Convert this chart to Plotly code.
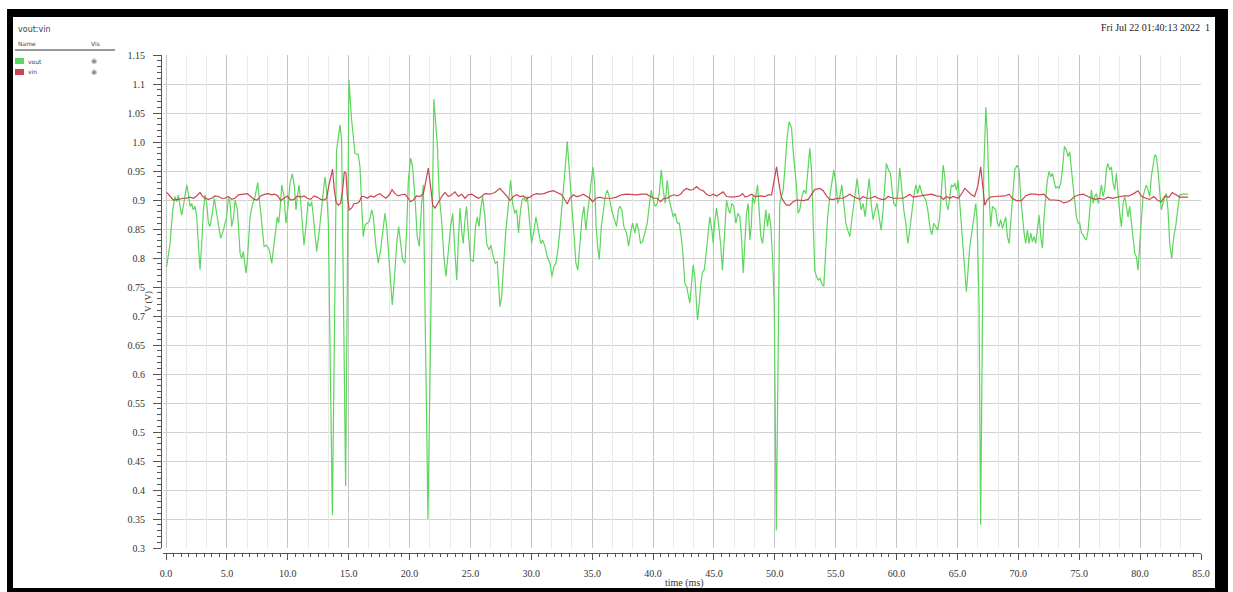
import plotly.graph_objects as go

# ---------------- data (time in ms, voltage in V) ----------------
vout_t = [0.05, 0.33, 0.55, 0.74, 0.88, 1.01, 1.15, 1.29, 1.48, 1.70, 1.83, 1.97, 2.11, 2.24, 2.38, 2.52, 2.65, 2.79, 2.93, 3.07,
          3.20, 3.34, 3.48, 3.61, 3.75, 3.89, 3.97, 4.11, 4.30, 4.49, 4.71, 4.84, 4.98, 5.12, 5.25, 5.39, 5.53, 5.67, 5.86, 6.08,
          6.21, 6.35, 6.57, 6.68, 6.90, 7.12, 7.31, 7.53, 7.72, 7.85, 8.05, 8.26, 8.48, 8.68, 8.87, 9.00, 9.14, 9.25, 9.36, 9.50,
          9.69, 9.85, 9.99, 10.18, 10.37, 10.54, 10.67, 10.78, 10.92, 11.06, 11.22, 11.33, 11.49, 11.66, 11.82, 11.96, 12.10, 12.23, 12.37, 12.59,
          12.78, 12.92, 13.05, 13.19, 13.33, 13.66, 14.00, 14.29, 14.42, 14.75, 15.02, 15.24, 15.52, 15.79, 15.93, 16.06, 16.20, 16.34, 16.48, 16.69,
          16.89, 17.02, 17.24, 17.43, 17.62, 17.79, 17.98, 18.12, 18.28, 18.45, 18.58, 18.75, 18.94, 19.10, 19.27, 19.43, 19.62, 19.76, 19.90, 20.09,
          20.25, 20.44, 20.63, 20.80, 20.99, 21.13, 21.51, 22.00, 22.29, 22.44, 22.63, 22.82, 22.99, 23.18, 23.37, 23.54, 23.67, 23.87, 24.00, 24.14,
          24.30, 24.41, 24.55, 24.68, 24.85, 25.01, 25.23, 25.42, 25.56, 25.70, 25.83, 26.00, 26.19, 26.33, 26.52, 26.68, 26.87, 27.04, 27.20, 27.31,
          27.42, 27.56, 27.75, 27.91, 28.11, 28.30, 28.46, 28.65, 28.79, 28.95, 29.06, 29.23, 29.39, 29.56, 29.67, 29.83, 30.02, 30.22, 30.38, 30.57,
          30.78, 30.93, 31.12, 31.31, 31.53, 31.69, 31.85, 32.02, 32.18, 32.35, 32.51, 32.67, 32.81, 32.95, 33.09, 33.22, 33.39, 33.52, 33.66, 33.82,
          33.99, 34.15, 34.32, 34.48, 34.62, 34.76, 34.92, 35.06, 35.20, 35.31, 35.44, 35.58, 35.75, 35.91, 36.07, 36.24, 36.40, 36.59, 36.78, 37.00,
          37.16, 37.27, 37.44, 37.60, 37.82, 37.99, 38.15, 38.32, 38.51, 38.65, 38.81, 38.97, 39.14, 39.33, 39.52, 39.68, 39.85, 40.01, 40.18, 40.34,
          40.51, 40.67, 40.83, 41.00, 41.16, 41.33, 41.49, 41.65, 41.82, 41.98, 42.15, 42.31, 42.45, 42.61, 42.75, 42.88, 43.02, 43.16, 43.29, 43.43,
          43.57, 43.65, 43.79, 43.92, 44.06, 44.20, 44.33, 44.50, 44.66, 44.83, 44.94, 45.05, 45.21, 45.37, 45.54, 45.70, 45.87, 46.03, 46.20, 46.31,
          46.47, 46.64, 46.80, 46.96, 47.13, 47.27, 47.40, 47.54, 47.67, 47.81, 47.95, 48.06, 48.17, 48.33, 48.47, 48.58, 48.71, 48.85, 48.99, 49.15,
          49.26, 49.40, 49.53, 49.67, 49.81, 49.95, 50.12, 50.40, 50.68, 50.82, 51.01, 51.18, 51.37, 51.50, 51.64, 51.78, 51.91, 52.05, 52.22, 52.38,
          52.55, 52.71, 52.87, 53.01, 53.15, 53.28, 53.42, 53.56, 53.70, 53.86, 54.02, 54.16, 54.32, 54.51, 54.68, 54.84, 55.01, 55.17, 55.34, 55.50,
          55.66, 55.83, 55.99, 56.16, 56.32, 56.49, 56.65, 56.76, 56.93, 57.09, 57.25, 57.42, 57.58, 57.75, 57.91, 58.07, 58.24, 58.40, 58.56, 58.73,
          58.89, 59.03, 59.16, 59.33, 59.50, 59.63, 59.77, 59.93, 60.10, 60.26, 60.42, 60.59, 60.76, 60.92, 61.08, 61.25, 61.41, 61.58, 61.74, 61.90,
          62.07, 62.23, 62.40, 62.56, 62.73, 62.89, 63.05, 63.22, 63.38, 63.54, 63.71, 63.82, 63.96, 64.09, 64.23, 64.37, 64.50, 64.64, 64.78, 64.91,
          65.05, 65.19, 65.32, 65.46, 65.60, 65.73, 65.87, 66.01, 66.17, 66.34, 66.50, 66.61, 66.77, 66.90, 67.16, 67.33, 67.46, 67.60, 67.73, 67.87,
          68.01, 68.14, 68.28, 68.41, 68.55, 68.69, 68.82, 68.96, 69.10, 69.24, 69.37, 69.51, 69.70, 69.89, 70.06, 70.19, 70.33, 70.47, 70.60, 70.74,
          70.88, 71.02, 71.15, 71.29, 71.43, 71.56, 71.70, 71.84, 71.98, 72.11, 72.25, 72.38, 72.52, 72.66, 72.80, 72.93, 73.07, 73.21, 73.34, 73.48,
          73.62, 73.78, 73.95, 74.08, 74.22, 74.36, 74.49, 74.63, 74.77, 74.90, 75.04, 75.18, 75.32, 75.45, 75.59, 75.73, 75.86, 76.00, 76.14, 76.27,
          76.41, 76.57, 76.68, 76.82, 76.95, 77.09, 77.23, 77.34, 77.50, 77.64, 77.78, 77.91, 78.05, 78.19, 78.33, 78.46, 78.60, 78.74, 78.87, 79.01,
          79.14, 79.28, 79.42, 79.56, 79.69, 79.83, 79.97, 80.10, 80.24, 80.38, 80.51, 80.65, 80.79, 80.92, 81.06, 81.20, 81.33, 81.47, 81.60, 81.74,
          81.88, 82.02, 82.15, 82.29, 82.43, 82.59, 82.76, 82.92, 83.09, 83.25, 83.52, 83.93]
vout_v = [0.785, 0.825, 0.883, 0.906, 0.897, 0.909, 0.889, 0.874, 0.897, 0.926, 0.911, 0.889, 0.894, 0.883, 0.889, 0.871, 0.825, 0.780, 0.825, 0.883,
          0.909, 0.894, 0.860, 0.854, 0.871, 0.894, 0.903, 0.883, 0.854, 0.834, 0.848, 0.857, 0.871, 0.903, 0.897, 0.854, 0.868, 0.900, 0.883, 0.808,
          0.799, 0.811, 0.774, 0.797, 0.871, 0.894, 0.906, 0.930, 0.894, 0.860, 0.820, 0.822, 0.814, 0.791, 0.825, 0.854, 0.871, 0.860, 0.883, 0.926,
          0.906, 0.860, 0.883, 0.929, 0.945, 0.923, 0.883, 0.906, 0.926, 0.897, 0.854, 0.822, 0.854, 0.897, 0.889, 0.897, 0.871, 0.837, 0.811, 0.848,
          0.883, 0.906, 0.940, 0.917, 0.860, 0.357, 0.985, 1.029, 1.003, 0.407, 1.107, 1.038, 0.980, 0.978, 0.957, 0.894, 0.837, 0.857, 0.860, 0.863,
          0.883, 0.871, 0.820, 0.791, 0.814, 0.848, 0.877, 0.854, 0.802, 0.751, 0.719, 0.762, 0.825, 0.854, 0.825, 0.797, 0.791, 0.848, 0.934, 0.972,
          0.957, 0.906, 0.837, 0.820, 0.894, 0.926, 0.350, 1.074, 0.992, 0.906, 0.866, 0.802, 0.768, 0.814, 0.854, 0.877, 0.825, 0.762, 0.825, 0.886,
          0.843, 0.825, 0.866, 0.889, 0.837, 0.797, 0.794, 0.854, 0.871, 0.854, 0.883, 0.906, 0.871, 0.825, 0.814, 0.822, 0.802, 0.791, 0.794, 0.756,
          0.716, 0.733, 0.791, 0.848, 0.889, 0.934, 0.894, 0.877, 0.883, 0.843, 0.871, 0.900, 0.903, 0.897, 0.906, 0.866, 0.825, 0.848, 0.871, 0.848,
          0.825, 0.831, 0.820, 0.802, 0.791, 0.768, 0.785, 0.791, 0.814, 0.848, 0.894, 0.934, 0.963, 1.001, 0.957, 0.906, 0.871, 0.837, 0.791, 0.779,
          0.825, 0.866, 0.889, 0.848, 0.877, 0.906, 0.929, 0.957, 0.929, 0.860, 0.820, 0.797, 0.854, 0.883, 0.906, 0.917, 0.906, 0.883, 0.871, 0.854,
          0.883, 0.889, 0.883, 0.854, 0.843, 0.820, 0.843, 0.860, 0.843, 0.860, 0.848, 0.825, 0.828, 0.843, 0.860, 0.889, 0.917, 0.900, 0.889, 0.894,
          0.911, 0.952, 0.917, 0.894, 0.934, 0.900, 0.883, 0.871, 0.877, 0.860, 0.860, 0.837, 0.808, 0.756, 0.751, 0.739, 0.722, 0.756, 0.788, 0.768,
          0.722, 0.693, 0.722, 0.756, 0.776, 0.779, 0.802, 0.843, 0.871, 0.848, 0.825, 0.860, 0.886, 0.860, 0.825, 0.779, 0.837, 0.900, 0.883, 0.877,
          0.894, 0.889, 0.860, 0.877, 0.871, 0.831, 0.774, 0.820, 0.877, 0.894, 0.831, 0.854, 0.906, 0.894, 0.911, 0.926, 0.883, 0.837, 0.825, 0.860,
          0.883, 0.854, 0.877, 0.854, 0.802, 0.722, 0.330, 0.894, 0.917, 0.952, 1.009, 1.035, 1.024, 0.986, 0.957, 0.923, 0.877, 0.883, 0.906, 0.917,
          0.911, 0.952, 0.989, 0.952, 0.848, 0.779, 0.768, 0.762, 0.765, 0.756, 0.751, 0.802, 0.866, 0.906, 0.929, 0.952, 0.929, 0.894, 0.906, 0.926,
          0.894, 0.860, 0.848, 0.837, 0.866, 0.894, 0.923, 0.937, 0.906, 0.883, 0.894, 0.871, 0.906, 0.937, 0.894, 0.866, 0.883, 0.894, 0.871, 0.848,
          0.883, 0.934, 0.963, 0.952, 0.946, 0.917, 0.894, 0.889, 0.911, 0.955, 0.917, 0.883, 0.860, 0.825, 0.848, 0.883, 0.906, 0.926, 0.911, 0.926,
          0.911, 0.906, 0.900, 0.883, 0.854, 0.840, 0.860, 0.854, 0.848, 0.870, 0.934, 0.960, 0.940, 0.894, 0.883, 0.906, 0.926, 0.923, 0.929, 0.917,
          0.934, 0.894, 0.860, 0.825, 0.779, 0.742, 0.779, 0.820, 0.843, 0.871, 0.894, 0.866, 0.722, 0.340, 0.952, 1.060, 1.009, 0.906, 0.854, 0.889,
          0.886, 0.883, 0.860, 0.854, 0.866, 0.851, 0.860, 0.871, 0.837, 0.825, 0.860, 0.906, 0.952, 0.960, 0.952, 0.906, 0.871, 0.843, 0.825, 0.848,
          0.825, 0.843, 0.828, 0.837, 0.825, 0.854, 0.874, 0.837, 0.817, 0.871, 0.906, 0.934, 0.949, 0.940, 0.946, 0.934, 0.920, 0.923, 0.920, 0.929,
          0.952, 0.992, 0.986, 0.975, 0.983, 0.952, 0.929, 0.906, 0.871, 0.860, 0.860, 0.843, 0.840, 0.834, 0.831, 0.848, 0.883, 0.917, 0.894, 0.906,
          0.911, 0.894, 0.906, 0.926, 0.906, 0.917, 0.952, 0.963, 0.952, 0.957, 0.929, 0.917, 0.946, 0.906, 0.877, 0.854, 0.894, 0.906, 0.889, 0.871,
          0.889, 0.860, 0.837, 0.808, 0.802, 0.779, 0.825, 0.871, 0.906, 0.917, 0.926, 0.917, 0.906, 0.940, 0.957, 0.978, 0.975, 0.952, 0.917, 0.883,
          0.894, 0.906, 0.911, 0.883, 0.825, 0.799, 0.837, 0.854, 0.883, 0.909, 0.910, 0.910]

vin_t = [0.05, 0.33, 0.60, 1.01, 1.42, 1.70, 1.97, 2.24, 2.52, 2.79, 3.01, 3.20, 3.48, 3.75, 4.02, 4.30, 4.57, 4.84, 5.12, 5.39,
         5.67, 5.94, 6.35, 6.68, 6.95, 7.23, 7.50, 7.77, 8.13, 8.40, 8.68, 8.95, 9.22, 9.41, 9.69, 9.96, 10.24, 10.51, 10.78, 11.06,
         11.33, 11.60, 11.88, 12.15, 12.42, 12.70, 12.97, 13.19, 13.38, 13.55, 13.68, 13.82, 13.96, 14.15, 14.34, 14.50, 14.64, 14.78, 14.89, 15.05,
         15.24, 15.44, 15.65, 15.87, 16.06, 16.26, 16.53, 16.80, 17.08, 17.35, 17.57, 17.79, 18.06, 18.34, 18.56, 18.80, 19.07, 19.35, 19.62, 19.90,
         20.09, 20.31, 20.58, 20.85, 21.13, 21.35, 21.54, 21.73, 21.90, 22.09, 22.37, 22.64, 22.91, 23.18, 23.46, 23.73, 24.00, 24.27, 24.55, 24.82,
         25.10, 25.37, 25.64, 25.92, 26.19, 26.60, 27.01, 27.42, 27.70, 27.97, 28.25, 28.52, 28.79, 29.06, 29.34, 29.61, 29.89, 30.16, 30.43, 30.71,
         31.04, 31.39, 31.80, 32.13, 32.49, 32.76, 32.95, 33.17, 33.44, 33.71, 33.99, 34.26, 34.54, 34.81, 35.03, 35.31, 35.64, 35.91, 36.18, 36.59,
         37.00, 37.41, 37.82, 38.23, 38.65, 39.05, 39.46, 39.79, 40.06, 40.34, 40.61, 40.89, 41.16, 41.44, 41.71, 41.98, 42.26, 42.53, 42.75, 43.02,
         43.29, 43.57, 43.84, 44.12, 44.39, 44.66, 44.94, 45.21, 45.48, 45.76, 46.03, 46.31, 46.58, 46.86, 47.13, 47.35, 47.57, 47.81, 48.09, 48.36,
         48.64, 48.91, 49.18, 49.46, 49.73, 49.92, 50.14, 50.33, 50.52, 50.74, 50.96, 51.23, 51.50, 51.78, 52.05, 52.38, 52.74, 53.01, 53.28, 53.70,
         53.97, 54.24, 54.51, 54.84, 55.20, 55.61, 55.88, 56.16, 56.43, 56.70, 56.98, 57.25, 57.52, 57.85, 58.21, 58.48, 58.76, 59.03, 59.30, 59.72,
         60.13, 60.54, 60.87, 61.08, 61.36, 61.69, 62.05, 62.45, 62.86, 63.27, 63.60, 63.85, 64.09, 64.37, 64.64, 65.05, 65.32, 65.60, 65.87, 66.14,
         66.41, 66.69, 66.91, 67.10, 67.24, 67.43, 67.70, 68.06, 68.47, 68.88, 69.24, 69.51, 69.84, 70.25, 70.60, 70.93, 71.34, 71.76, 72.09, 72.30,
         72.58, 72.99, 73.40, 73.73, 74.08, 74.36, 74.63, 74.99, 75.32, 75.64, 76.00, 76.35, 76.68, 77.01, 77.36, 77.72, 78.05, 78.38, 78.74, 79.09,
         79.47, 79.83, 80.10, 80.46, 80.79, 81.12, 81.47, 81.74, 82.02, 82.37, 82.65, 82.92, 83.25, 83.93]
vin_v = [0.913, 0.907, 0.900, 0.901, 0.903, 0.903, 0.905, 0.903, 0.907, 0.913, 0.906, 0.903, 0.901, 0.903, 0.907, 0.906, 0.903, 0.903, 0.906, 0.901,
         0.903, 0.909, 0.910, 0.911, 0.906, 0.901, 0.900, 0.907, 0.910, 0.911, 0.909, 0.910, 0.906, 0.899, 0.903, 0.907, 0.900, 0.901, 0.907, 0.905,
         0.907, 0.903, 0.901, 0.907, 0.905, 0.901, 0.900, 0.903, 0.926, 0.940, 0.953, 0.917, 0.897, 0.891, 0.894, 0.917, 0.949, 0.946, 0.906, 0.883,
         0.886, 0.894, 0.894, 0.897, 0.906, 0.906, 0.903, 0.907, 0.905, 0.909, 0.911, 0.907, 0.903, 0.909, 0.918, 0.911, 0.907, 0.909, 0.910, 0.903,
         0.897, 0.900, 0.907, 0.906, 0.911, 0.934, 0.955, 0.923, 0.891, 0.886, 0.897, 0.906, 0.913, 0.906, 0.909, 0.914, 0.906, 0.910, 0.903, 0.909,
         0.910, 0.906, 0.903, 0.906, 0.911, 0.910, 0.913, 0.920, 0.914, 0.907, 0.899, 0.906, 0.909, 0.906, 0.907, 0.903, 0.905, 0.909, 0.911, 0.910,
         0.911, 0.914, 0.916, 0.913, 0.909, 0.900, 0.893, 0.903, 0.909, 0.906, 0.907, 0.910, 0.906, 0.903, 0.897, 0.903, 0.905, 0.903, 0.903, 0.903,
         0.905, 0.909, 0.910, 0.909, 0.909, 0.910, 0.910, 0.906, 0.903, 0.903, 0.897, 0.903, 0.903, 0.907, 0.909, 0.907, 0.910, 0.917, 0.920, 0.917,
         0.918, 0.923, 0.918, 0.916, 0.910, 0.907, 0.910, 0.907, 0.911, 0.914, 0.906, 0.905, 0.905, 0.906, 0.907, 0.911, 0.905, 0.907, 0.910, 0.906,
         0.907, 0.907, 0.906, 0.909, 0.909, 0.929, 0.957, 0.929, 0.906, 0.897, 0.891, 0.891, 0.897, 0.900, 0.900, 0.899, 0.901, 0.909, 0.918, 0.920,
         0.916, 0.907, 0.901, 0.901, 0.903, 0.903, 0.907, 0.910, 0.906, 0.903, 0.901, 0.906, 0.903, 0.903, 0.906, 0.903, 0.901, 0.901, 0.906, 0.903,
         0.903, 0.903, 0.907, 0.910, 0.905, 0.906, 0.907, 0.909, 0.910, 0.907, 0.906, 0.901, 0.906, 0.903, 0.906, 0.903, 0.910, 0.920, 0.914, 0.909,
         0.906, 0.926, 0.957, 0.923, 0.891, 0.900, 0.905, 0.906, 0.906, 0.907, 0.910, 0.903, 0.899, 0.899, 0.907, 0.910, 0.910, 0.909, 0.910, 0.905,
         0.900, 0.900, 0.899, 0.895, 0.897, 0.901, 0.906, 0.909, 0.910, 0.907, 0.903, 0.901, 0.903, 0.901, 0.905, 0.903, 0.905, 0.906, 0.907, 0.907,
         0.911, 0.916, 0.907, 0.903, 0.901, 0.906, 0.899, 0.897, 0.906, 0.905, 0.913, 0.910, 0.905, 0.905]

series_names = ["vout", "vin"]
series_colors = ["#5cd65c", "#cc4450"]

x_tick_vals = [0, 5, 10, 15, 20, 25, 30, 35, 40, 45, 50, 55, 60, 65, 70, 75, 80, 85]
x_tick_text = ["0.0", "5.0", "10.0", "15.0", "20.0", "25.0", "30.0", "35.0", "40.0", "45.0",
               "50.0", "55.0", "60.0", "65.0", "70.0", "75.0", "80.0", "85.0"]
y_tick_vals = [0.3, 0.35, 0.4, 0.45, 0.5, 0.55, 0.6, 0.65, 0.7, 0.75, 0.8, 0.85, 0.9, 0.95, 1.0, 1.05, 1.1, 1.15]
y_tick_text = ["0.3", "0.35", "0.4", "0.45", "0.5", "0.55", "0.6", "0.65", "0.7", "0.75",
               "0.8", "0.85", "0.9", "0.95", "1.0", "1.05", "1.1", "1.15"]

x_title = "time (ms)"
y_title = "V (V)"
panel_title = "vout:vin"
stamp_text = "Fri Jul 22 01:40:13 2022  1"

# ---------------- layout geometry ----------------
W, H = 1233, 592
ML, MR, MT, MB = 161, 32, 55, 39
PW = W - ML - MR
PH = H - MT - MB


def px(x):
    return (x - ML) / PW


def py(y):
    return (H - MB - y) / PH


serif = "Liberation Serif"
sans = "DejaVu Sans"
axis_col = "#555555"
text_col = "#333333"

# minor vertical grid every 5/3 ms, skipping the major (5 ms) lines
minor_grid = [k * 5.0 / 3.0 for k in range(0, 52) if k % 3 != 0]

fig = go.Figure()
fig.add_trace(go.Scatter(x=vout_t, y=vout_v, mode="lines", name=series_names[0],
                         line=dict(color=series_colors[0], width=1.2)))
fig.add_trace(go.Scatter(x=vin_t, y=vin_v, mode="lines", name=series_names[1],
                         line=dict(color=series_colors[1], width=1.2)))
fig.add_trace(go.Scatter(x=[None], y=[None], xaxis="x2", yaxis="y", showlegend=False,
                         hoverinfo="skip", mode="lines"))

tick_font = dict(family=serif, size=10, color=text_col)

fig.update_layout(
    width=W, height=H,
    margin=dict(l=ML, r=MR, t=MT, b=MB, pad=0),
    paper_bgcolor="white", plot_bgcolor="white",
    showlegend=False,
    xaxis=dict(domain=[px(163), 1], range=[-0.25, 85], anchor="free", position=0,
               showline=True, linecolor=axis_col, linewidth=1,
               ticks="outside", ticklen=6, tickcolor=axis_col, tickwidth=1,
               tickmode="array", tickvals=x_tick_vals, ticktext=x_tick_text,
               tickfont=tick_font, ticklabelstandoff=5,
               showgrid=True, gridcolor="#c4c4c4", gridwidth=1, zeroline=False,
               minor=dict(tickmode="linear", tick0=0, dtick=0.625, ticks="outside",
                          ticklen=3, tickcolor=axis_col, showgrid=False)),
    xaxis2=dict(overlaying="x", range=[-0.25, 85], anchor="y",
                showgrid=True, gridcolor="#e9e9e9", gridwidth=1,
                tickmode="array", tickvals=minor_grid, showticklabels=False,
                ticks="", showline=False, zeroline=False),
    yaxis=dict(domain=[py(548), 1], range=[0.3, 1.15], anchor="free", position=0,
               showline=True, linecolor=axis_col, linewidth=1,
               ticks="outside", ticklen=8, tickcolor=axis_col, tickwidth=1,
               tickmode="array", tickvals=y_tick_vals, ticktext=y_tick_text,
               tickfont=tick_font, ticklabelstandoff=6,
               showgrid=True, gridcolor="#d2d2d2", gridwidth=1, zeroline=False,
               minor=dict(tickmode="linear", tick0=0.3, dtick=0.01, ticks="outside",
                          ticklen=4, tickcolor=axis_col, showgrid=False)),
)

annotations = [
    dict(text=x_title, x=px(684), y=py(583), xanchor="center", yanchor="middle",
         font=dict(family=serif, size=10, color=text_col)),
    dict(text=y_title, x=px(148), y=py(302), xanchor="center", yanchor="middle", textangle=-90,
         font=dict(family=serif, size=9, color=text_col)),
    dict(text=stamp_text, x=px(1212), y=py(28), xanchor="right", yanchor="middle",
         font=dict(family=serif, size=10, color="#222222")),
    dict(text=panel_title, x=px(16), y=py(29), xanchor="left", yanchor="middle",
         font=dict(family=sans, size=8, color="#444444")),
    dict(text="Name", x=px(16), y=py(44), xanchor="left", yanchor="middle",
         font=dict(family=sans, size=6, color="#444444")),
    dict(text="Vis", x=px(89), y=py(44), xanchor="left", yanchor="middle",
         font=dict(family=sans, size=6, color="#444444")),
]
for i, (nm, col) in enumerate(zip(series_names, series_colors)):
    yy = 61 + 11 * i
    annotations.append(dict(text=nm, x=px(26), y=py(yy), xanchor="left", yanchor="middle",
                            font=dict(family=sans, size=6, color="#444444")))
    annotations.append(dict(text="◉", x=px(94), y=py(yy), xanchor="center", yanchor="middle",
                            font=dict(family=sans, size=7, color="#888888")))
for a in annotations:
    a.update(xref="paper", yref="paper", showarrow=False)
fig.update_layout(annotations=annotations)

shapes = [
    # legend separator
    dict(type="line", x0=px(15), x1=px(115), y0=py(50), y1=py(50),
         line=dict(color="#9a9a9a", width=2)),
]
for i, col in enumerate(series_colors):
    yy = 61 + 11 * i
    shapes.append(dict(type="rect", x0=px(15), x1=px(24), y0=py(yy - 3), y1=py(yy + 3),
                       fillcolor=col, line=dict(width=0)))
# black photo frame
frame = [(7, 9, 1228, 17), (7, 9, 13, 600), (1215, 9, 1228, 600), (7, 588, 1228, 600)]
for (x0, y0, x1, y1) in frame:
    shapes.append(dict(type="rect", x0=px(x0), x1=px(x1), y0=py(y1), y1=py(y0),
                       fillcolor="black", line=dict(width=0), layer="above"))
for s in shapes:
    s.update(xref="paper", yref="paper")
fig.update_layout(shapes=shapes)

fig.write_html("out.html", config={"displayModeBar": False},
               post_script="document.body.style.margin='0px';document.body.style.overflow='hidden';")
